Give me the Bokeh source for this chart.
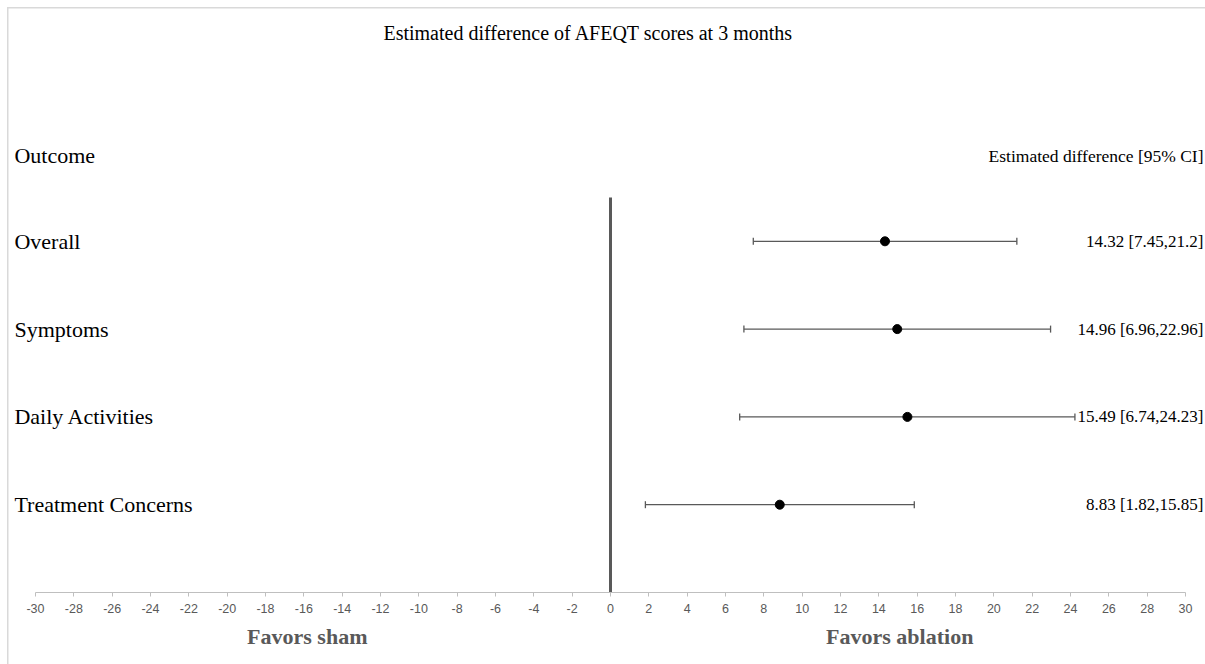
from bokeh.plotting import figure
from bokeh.models import (ColumnDataSource, Range1d, FixedTicker, LinearAxis,
                          Whisker, TeeHead, Label)
from bokeh.core.properties import value
from bokeh.embed import file_html
from bokeh.resources import INLINE

# Forest plot data: AFEQT score differences (ablation vs sham) at 3 months
outcomes = ["Overall", "Symptoms", "Daily Activities", "Treatment Concerns"]
estimates = [14.32, 14.96, 15.49, 8.83]
ci_lower = [7.45, 6.96, 6.74, 1.82]
ci_upper = [21.2, 22.96, 24.23, 15.85]
row_pos = [4, 3, 2, 1]
tick_values = list(range(-30, 31, 2))

SERIF = "Liberation Serif"
SANS = "Liberation Sans"
GREY = "#595959"
BORDER = "#d9d9d9"

ci_text = [f"{e} [{lo},{hi}]" for e, lo, hi in zip(estimates, ci_lower, ci_upper)]

src = ColumnDataSource(dict(
    outcome=outcomes, est=estimates, lo=ci_lower, hi=ci_upper,
    pos=row_pos, ci=ci_text,
))

p = figure(
    width=1205, height=664,
    x_range=Range1d(-31.826, 31.043), y_range=Range1d(0, 6.7426),
    output_backend="svg", toolbar_location=None,
    y_axis_location=None,
    min_border_left=0, min_border_right=0, min_border_top=0,
    min_border_bottom=72,
)
p.outline_line_color = None
p.grid.visible = False
# transparent canvas so the chart-area border (left and top edges) shows through
p.background_fill_color = None
p.border_fill_color = None
p.styles = {
    "background-color": "white",
    "background-image": f"linear-gradient({BORDER},{BORDER}), linear-gradient({BORDER},{BORDER})",
    "background-size": "1.5px 100%, 100% 1.5px",
    "background-position": "7px 7px, 7px 7px",
    "background-repeat": "no-repeat",
}

# Value axis (-30 .. 30)
xa = p.xaxis[0]
xa.ticker = FixedTicker(ticks=tick_values)
xa.major_label_overrides = {t: str(t) for t in tick_values}
xa.bounds = (-30, 30)
xa.axis_line_color = "#bfbfbf"
xa.axis_line_width = 1
xa.major_tick_line_color = "#bfbfbf"
xa.major_tick_in = 0
xa.major_tick_out = 4
xa.minor_tick_line_color = None
xa.major_label_standoff = 7
xa.major_label_text_font = SANS
xa.major_label_text_font_size = "12.5px"
xa.major_label_text_color = GREY

# Direction captions under the value axis
side_pos = [-15.82, 15.09]
side_text = ["Favors sham", "Favors ablation"]
cap_axis = LinearAxis(
    ticker=FixedTicker(ticks=side_pos),
    major_label_overrides={k: v for k, v in zip(side_pos, side_text)},
    axis_line_color=None, major_tick_line_color=None, minor_tick_line_color=None,
    major_tick_out=0, major_tick_in=0, major_label_standoff=8,
    major_label_text_font=SERIF, major_label_text_font_size="22px",
    major_label_text_font_style="bold", major_label_text_color=GREY,
)
p.add_layout(cap_axis, "below")

# Line of no effect
p.segment(x0=[0], y0=[0], x1=[0], y1=[4.5], line_color=GREY, line_width=3)

# Confidence intervals and point estimates
p.add_layout(Whisker(
    source=src, base="pos", lower="lo", upper="hi", dimension="width",
    line_color=GREY, line_width=1.3,
    lower_head=TeeHead(size=7, line_color=GREY, line_width=1.3),
    upper_head=TeeHead(size=7, line_color=GREY, line_width=1.3),
))
p.scatter(x="est", y="pos", source=src, size=9, color="black")

# Row labels and CI text
p.text(x=-31.10, y="pos", text="outcome", source=src,
       text_font=value(SERIF), text_font_size="22px", text_color="black",
       text_align="left", text_baseline="middle")
p.text(x=30.94, y="pos", text="ci", source=src,
       text_font=value(SERIF), text_font_size="17px", text_color="black",
       text_align="right", text_baseline="middle")

# Headers and title
p.add_layout(Label(x=-31.10, y=4.977, text="Outcome", text_font=SERIF,
                   text_font_size="22px", text_color="black",
                   text_align="left", text_baseline="middle"))
p.add_layout(Label(x=30.94, y=4.977, text="Estimated difference [95% CI]",
                   text_font=SERIF, text_font_size="17.5px", text_color="black",
                   text_align="right", text_baseline="middle"))
p.add_layout(Label(x=-1.15, y=6.367,
                   text="Estimated difference of AFEQT scores at 3 months",
                   text_font=SERIF, text_font_size="20px", text_color="black",
                   text_align="center", text_baseline="middle"))

open("out.html", "w").write(file_html(p, INLINE))
